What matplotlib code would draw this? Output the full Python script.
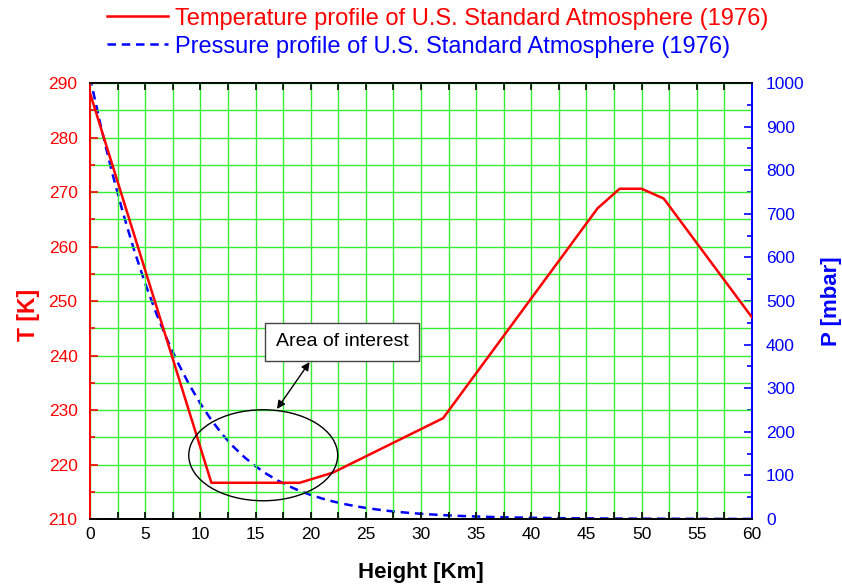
import matplotlib
matplotlib.use('Agg')
import matplotlib.pyplot as plt
from matplotlib.patches import Ellipse
from matplotlib.ticker import MultipleLocator

plt.rcParams['font.family'] = ['Liberation Sans', 'DejaVu Sans']

# temperature profile (km, K)
t_height = [0, 11, 19, 22, 32, 46, 48, 50, 52, 60]
t_kelvin = [288.15, 216.65, 216.65, 218.5, 228.5, 267.0, 270.6, 270.6, 268.8, 247.0]

# pressure profile (km, mbar)
p_height = [0, 1, 2, 3, 4, 5, 6, 7, 8, 9, 10, 11, 12, 13, 14, 15, 16, 17, 18, 19,
            20, 21, 22, 23, 24, 25, 26, 27, 28, 29, 30, 32, 34, 36, 38, 40, 42,
            44, 46, 48, 50, 55, 60]
p_mbar = [1013.25, 898.76, 795.01, 701.21, 616.60, 540.48, 472.17, 411.05, 356.51,
          308.00, 264.99, 226.99, 193.99, 165.79, 141.70, 121.11, 103.52, 88.50,
          75.65, 64.67, 55.29, 47.29, 40.47, 34.67, 29.72, 25.49, 21.88, 18.81,
          16.16, 13.90, 11.97, 8.89, 6.63, 4.99, 3.77, 2.87, 2.20, 1.70, 1.31,
          1.02, 0.80, 0.43, 0.22]

t_label = 'Temperature profile of U.S. Standard Atmosphere (1976)'
p_label = 'Pressure profile of U.S. Standard Atmosphere (1976)'

red = '#ff0000'
blue = '#0000ff'
green = '#33ee33'

fig = plt.figure(figsize=(8.42, 5.88), dpi=100)
ax = fig.add_axes([0.1069, 0.1173, 0.7862, 0.7415])
ax2 = ax.twinx()

ax.set_zorder(2)
ax.patch.set_visible(False)

l1, = ax.plot(t_height, t_kelvin, color=red, lw=1.8, zorder=3)
l2, = ax2.plot(p_height, p_mbar, color=blue, lw=1.8, ls=(0, (3.4, 2.3)))

ax.set_xlim(0, 60)
ax.set_ylim(210, 290)
ax2.set_ylim(0, 1000)

ax.xaxis.set_major_locator(MultipleLocator(5))
ax.xaxis.set_minor_locator(MultipleLocator(2.5))
ax.yaxis.set_major_locator(MultipleLocator(10))
ax.yaxis.set_minor_locator(MultipleLocator(5))
ax2.yaxis.set_major_locator(MultipleLocator(100))
ax2.yaxis.set_minor_locator(MultipleLocator(50))

ax.grid(True, which='both', color=green, lw=1.0, zorder=0)
ax.set_axisbelow(True)

ax.tick_params(axis='x', which='both', direction='in', top=True, length=5,
               width=1.2, labelsize=12.5, pad=6, colors='black')
ax.tick_params(axis='y', which='major', direction='in', length=6, width=1.2,
               colors=red, labelsize=12.5, pad=9)
ax.tick_params(axis='y', which='minor', direction='in', length=3.5, width=1.2,
               colors=red)
ax2.tick_params(axis='y', which='major', direction='in', length=6, width=1.2,
                colors=blue, labelsize=12.5, pad=10)
ax2.tick_params(axis='y', which='minor', direction='in', length=3.5, width=1.2,
                colors=blue)

for a in (ax, ax2):
    a.spines['top'].set_color('black')
    a.spines['bottom'].set_color('black')
    a.spines['left'].set_color(red)
    a.spines['right'].set_color(blue)
    for s in a.spines.values():
        s.set_linewidth(1.3)

ax.set_xlabel('Height [Km]', fontsize=16, fontweight='bold')
ax.xaxis.set_label_coords(0.5, -0.098)
ax.set_ylabel('T [K]', fontsize=16.5, fontweight='bold', color=red)
ax.yaxis.set_label_coords(-0.076, 0.468)
ax2.set_ylabel('P [mbar]', fontsize=16, fontweight='bold', color=blue, rotation=90)
ax2.yaxis.set_label_coords(1.104, 0.5)

# area of interest
ell = Ellipse((15.7, 221.7), 13.5, 16.7, fill=False, ec='black', lw=1.0, zorder=4)
ax.add_patch(ell)
ax.annotate('', xy=(16.95, 230.2), xytext=(19.9, 238.8),
            arrowprops=dict(arrowstyle='<|-|>', color='black', lw=1.0,
                            mutation_scale=12, shrinkA=0, shrinkB=0), zorder=5)
ax.text(22.85, 242.5, 'Area of interest', fontsize=14, ha='center', va='center',
        zorder=5, bbox=dict(boxstyle='square,pad=0.55', fc='white', ec='#444444', lw=1.0))

leg = fig.legend([l1, l2], [t_label, p_label], loc='upper left',
                 bbox_to_anchor=(0.1015, 1.023), frameon=False, handlelength=2.6,
                 handletextpad=0.3, labelspacing=0.25,
                 prop={'family': ['Liberation Sans Narrow', 'Liberation Sans'], 'size': 17})
leg.get_texts()[0].set_color(red)
leg.get_texts()[1].set_color(blue)

fig.savefig('out.png', dpi=100)
